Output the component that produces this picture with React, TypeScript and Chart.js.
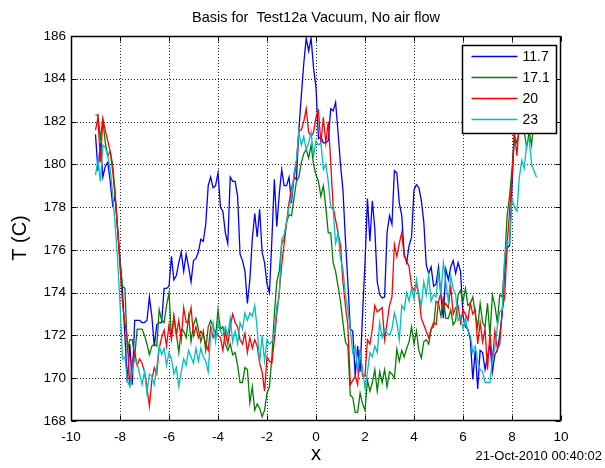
import React, { useEffect, useRef } from 'react';
import { Chart, registerables } from 'chart.js';

Chart.register(...registerables);

const FONT = '"Liberation Sans", Arial, Helvetica, sans-serif';

const TITLE = 'Basis for  Test12a Vacuum, No air flow';
const X_LABEL = 'x';
const Y_LABEL = 'T (C)';
const TIMESTAMP = '21-Oct-2010 00:40:02';

const SERIES_LABELS = ['11.7', '17.1', '20', '23'];
const SERIES_COLORS = ['#0000ff', '#008000', '#ff0000', '#00bfbf'];

// sampling grid of the measurement positions
const X_START = -9;
const X_STEP = 0.1;

const X_TICKS = [-10, -8, -6, -4, -2, 0, 2, 4, 6, 8, 10];
const Y_TICKS = [168, 170, 172, 174, 176, 178, 180, 182, 184, 186];

// one row per unit of x (-9.0 ... 9.0)
const T_11_7 = [
  181.4, 179.7, 181.0, 179.4, 179.9, 180.1, 179.2, 178.1, 178.5, 177.0,
  175.6, 174.1, 172.0, 169.8, 171.6, 169.7, 172.7, 172.7, 172.7, 172.6,
  172.6, 172.7, 173.8, 172.9, 171.5, 172.5, 172.6, 172.6, 174.2, 174.2,
  174.3, 175.7, 174.6, 174.8, 175.4, 175.9, 175.0, 175.8, 175.2, 174.5,
  175.5, 175.6, 175.9, 176.5, 176.4, 177.2, 179.0, 179.4, 178.9, 179.0,
  179.6, 178.0, 177.8, 176.8, 176.3, 179.4, 179.2, 179.2, 178.5, 175.8,
  175.5, 175.0, 173.5, 174.6, 176.5, 177.7, 176.6, 177.9, 175.9, 175.4,
  174.4, 174.0, 176.5, 179.3, 177.1, 178.6, 179.75, 179.0, 179.0, 179.4,
  178.2, 179.4, 179.3, 181.6, 183.2, 184.7, 185.9, 185.3, 185.9, 184.5,
  183.6, 181.2, 181.3, 181.0, 181.0, 181.1, 182.6, 182.5, 182.9, 181.5,
  180.0, 178.8, 176.5, 174.5, 172.3, 172.2, 170.1, 171.5, 170.3, 173.0,
  175.4, 178.4, 176.4, 178.3, 177.0, 174.5, 173.9, 173.75, 173.8, 176.8,
  177.6, 177.2, 179.7, 179.6, 178.2, 177.6, 175.8, 175.4, 176.2, 176.6,
  178.8, 179.05, 178.9, 178.3, 177.3, 175.3, 174.9, 175.2, 174.3, 174.4,
  175.2, 173.8, 172.8, 175.1, 174.6, 175.2, 175.5, 174.9, 175.4, 175.0,
  172.9, 172.4, 172.3, 171.8, 169.95, 171.3, 169.5, 171.3, 171.2, 170.4,
  171.0, 171.6, 170.3, 171.1, 171.3, 172.0, 173.0, 175.0, 176.1, 176.2,
  179.0, 181.5, 182.8, 183.2, 183.8, 184.0, 183.5, 184.2, 184.0, 184.5,
  184.2,
];

const T_17_1 = [
  182.3, 182.3, 181.2, 182.1, 181.0, 180.4, 180.6, 180.0, 178.7, 177.0,
  175.5, 174.3, 174.2, 171.3, 171.8, 171.8, 171.0, 172.3, 172.3, 172.3,
  172.0, 171.6, 171.1, 171.5, 171.6, 171.5, 173.2, 172.7, 172.6, 173.4,
  174.0, 171.9, 172.9, 172.1, 171.2, 172.3, 172.2, 171.9, 172.9, 171.7,
  172.5, 172.8, 172.3, 171.7, 172.2, 171.3, 172.4, 172.7, 172.4, 171.9,
  173.2, 172.3, 172.4, 171.6, 171.3, 171.6, 171.1, 171.2, 170.6, 169.8,
  169.8, 170.5, 170.4, 168.85, 169.6, 168.5, 168.8, 168.6, 168.2, 168.5,
  169.3, 169.6, 171.0, 173.0, 174.5, 175.0, 176.3, 176.5, 177.3, 177.65,
  177.6, 178.4, 179.2, 179.4, 180.07, 180.5, 180.7, 180.3, 180.9, 180.0,
  179.5, 179.2, 178.5, 179.0, 178.0, 176.8, 176.8, 175.4, 175.0, 174.3,
  173.6, 172.6, 171.7, 171.5, 169.2, 169.1, 168.4, 168.4, 169.3, 168.8,
  168.5, 169.9, 169.4, 169.8, 170.4, 169.4, 170.3, 169.8, 170.4, 169.6,
  170.3, 170.2, 170.0, 171.35, 170.8, 171.3, 171.0, 171.4, 171.7, 172.4,
  171.6, 172.2, 171.3, 170.95, 171.7, 171.8, 171.6, 172.3, 172.4, 173.6,
  173.5, 172.9, 173.7, 172.8, 172.8, 173.2, 172.5, 172.7, 173.9, 174.1,
  173.6, 174.2, 173.4, 173.5, 173.8, 173.0, 172.4, 173.5, 172.6, 172.4,
  173.5, 172.0, 173.9, 173.4, 172.6, 173.9, 173.8, 175.4, 177.6, 178.5,
  179.8, 181.3, 181.0, 181.6, 181.8, 181.5, 180.8, 181.5, 180.9, 182.3,
  183.0,
];

const T_20 = [
  181.6, 182.2, 180.1, 182.1, 181.6, 181.1, 180.6, 179.7, 178.5, 177.1,
  175.2, 173.5, 172.6, 171.8, 169.6, 170.8, 171.2, 170.6, 170.9, 170.7,
  170.3, 169.6, 168.7, 169.9, 170.5, 170.2, 171.4, 171.9, 172.25, 171.5,
  172.5, 171.8, 172.9, 172.0, 172.7, 171.8, 173.3, 172.6, 172.7, 173.3,
  172.0, 172.4, 171.9, 172.2, 172.0, 171.6, 171.3, 172.4, 171.9, 172.2,
  172.0, 171.9, 171.3, 172.2, 171.6, 172.4, 173.0, 172.6, 172.4, 171.8,
  171.6, 172.1, 171.2, 171.9, 171.4, 171.8, 171.5, 170.7, 170.3, 169.4,
  171.0, 170.8, 170.7, 171.8, 173.0, 174.0, 175.3, 176.3, 177.3, 178.2,
  178.9, 179.3, 180.07, 181.6, 181.6, 182.0, 182.6, 181.5, 181.3, 181.5,
  182.2, 182.5, 181.0, 182.2, 181.0, 182.0, 180.1, 178.0, 177.4, 176.8,
  176.2, 174.5, 173.4, 172.5, 169.7, 169.9, 170.1, 169.7, 171.35, 170.1,
  170.1, 171.8, 171.6, 172.3, 173.4, 173.1, 173.2, 173.3, 171.8, 172.6,
  173.4, 173.8, 176.25, 175.7, 176.3, 176.8, 175.7, 175.5, 175.2, 174.3,
  174.1, 174.4, 173.8, 172.8, 172.5, 172.2, 171.9, 172.3, 172.6, 172.5,
  173.6, 174.0, 173.3, 173.5, 173.3, 174.3, 173.0, 173.3, 173.4, 172.6,
  173.2, 173.0, 172.7, 173.5, 173.0, 173.2, 171.6, 172.6, 171.7, 172.3,
  170.4, 172.1, 170.8, 172.2, 171.4, 171.6, 173.2, 173.8, 176.2, 177.8,
  179.4, 181.5, 180.4, 182.0, 182.8, 183.0, 183.3, 183.5, 183.8, 183.6,
  184.0,
];

const T_23 = [
  179.5, 180.2, 179.2, 180.9, 180.8, 180.4, 179.8, 178.6, 177.2, 175.6,
  173.5, 170.9, 171.0, 169.9, 169.6, 170.3, 170.9, 170.7, 170.2, 169.7,
  170.3, 169.3, 170.2, 170.1, 169.7, 170.5, 171.5, 171.1, 171.4, 170.6,
  171.2, 170.9, 170.2, 170.5, 169.6, 170.3, 170.9, 170.6, 171.3, 171.0,
  170.7, 171.4, 170.8, 171.4, 171.0, 170.8, 170.3, 172.0, 172.6, 171.7,
  172.6, 172.2, 172.0, 172.4, 172.0, 172.8, 171.7, 172.2, 171.6, 172.6,
  172.3, 173.05, 172.7, 173.05, 172.9, 173.4, 172.3, 170.7, 172.0, 170.8,
  171.8, 171.6, 171.7, 172.2, 173.4, 173.8, 176.5, 176.7, 177.3, 178.0,
  178.4, 179.6, 180.2, 181.5, 180.9, 181.3, 180.7, 181.0, 181.5, 180.4,
  181.1, 180.9, 181.0, 179.75, 180.0, 179.2, 178.0, 177.9, 176.3, 176.8,
  175.6, 175.1, 173.9, 173.2, 172.3, 171.2, 171.5, 170.4, 171.2, 170.4,
  169.55, 170.3, 171.2, 171.0, 171.5, 171.2, 172.6, 171.9, 172.3, 172.1,
  172.0, 172.3, 173.05, 172.6, 171.8, 173.4, 173.2, 174.0, 173.6, 174.2,
  173.7, 174.6, 173.9, 173.4, 174.5, 173.9, 174.8, 173.6, 173.9, 173.8,
  174.9, 174.0, 175.4, 174.5, 173.6, 174.8, 174.2, 173.9, 172.7, 172.9,
  172.3, 172.8, 172.2, 172.0, 171.2, 171.5, 170.8, 170.4, 170.3, 169.8,
  169.8, 169.8, 170.9, 171.4, 172.4, 173.1, 173.2, 175.7, 176.4, 176.3,
  178.4, 178.0, 177.8, 179.4, 180.2, 179.8, 181.0, 181.2, 180.0, 179.7,
  179.4,
];

const SERIES = [T_11_7, T_17_1, T_20, T_23];

const X_MIN = X_TICKS[0];
const X_MAX = X_TICKS[X_TICKS.length - 1];
const Y_MIN = Y_TICKS[0];
const Y_MAX = Y_TICKS[Y_TICKS.length - 1];

const matlabAxes = {
  id: 'matlabAxes',
  beforeDatasetsDraw(chart: any) {
    const { ctx, chartArea: a, scales } = chart;
    const xs = scales.x;
    const ys = scales.y;
    ctx.save();
    ctx.strokeStyle = 'rgba(0,0,0,0.85)';
    ctx.lineWidth = 1;
    ctx.setLineDash([1, 2]);
    X_TICKS.forEach((v) => {
      if (v <= X_MIN || v >= X_MAX) return;
      const px = Math.round(xs.getPixelForValue(v)) + 0.5;
      ctx.beginPath();
      ctx.moveTo(px, a.top);
      ctx.lineTo(px, a.bottom);
      ctx.stroke();
    });
    Y_TICKS.forEach((v) => {
      if (v <= Y_MIN || v >= Y_MAX) return;
      const py = Math.round(ys.getPixelForValue(v)) + 0.5;
      ctx.beginPath();
      ctx.moveTo(a.left, py);
      ctx.lineTo(a.right, py);
      ctx.stroke();
    });
    ctx.restore();
  },
  afterDatasetsDraw(chart: any) {
    const { ctx, chartArea: a, scales } = chart;
    const xs = scales.x;
    const ys = scales.y;
    const L = Math.round(a.left) + 0.5;
    const R = Math.round(a.right) - 0.5;
    const T = Math.round(a.top) + 0.5;
    const B = Math.round(a.bottom) - 0.5;
    ctx.save();
    ctx.setLineDash([]);
    ctx.strokeStyle = '#000';
    ctx.lineWidth = 1;
    // tick marks (inward, all four sides)
    const tl = 5;
    X_TICKS.forEach((v) => {
      const px = Math.round(xs.getPixelForValue(v)) + 0.5;
      ctx.beginPath();
      ctx.moveTo(px, B);
      ctx.lineTo(px, B - tl);
      ctx.moveTo(px, T);
      ctx.lineTo(px, T + tl);
      ctx.stroke();
    });
    Y_TICKS.forEach((v) => {
      const py = Math.round(ys.getPixelForValue(v)) + 0.5;
      ctx.beginPath();
      ctx.moveTo(L, py);
      ctx.lineTo(L + tl, py);
      ctx.moveTo(R, py);
      ctx.lineTo(R - tl, py);
      ctx.stroke();
    });
    // axes box
    ctx.lineWidth = 1.5;
    ctx.strokeRect(L, T, R - L, B - T);

    // legend box (drawn over the data, like MATLAB)
    const lx = 462.5;
    const ly = 45.5;
    const lw = 94;
    const lh = 88;
    ctx.fillStyle = '#fff';
    ctx.fillRect(lx, ly, lw, lh);
    ctx.lineWidth = 1.5;
    ctx.strokeStyle = '#000';
    ctx.strokeRect(lx, ly, lw, lh);
    ctx.font = '14px ' + FONT;
    ctx.textBaseline = 'middle';
    ctx.textAlign = 'left';
    chart.data.datasets.forEach((ds: any, i: number) => {
      const ry = ly + 11 + i * 21;
      ctx.strokeStyle = ds.borderColor;
      ctx.lineWidth = 1.3;
      ctx.beginPath();
      ctx.moveTo(lx + 9, ry);
      ctx.lineTo(lx + 55, ry);
      ctx.stroke();
      ctx.fillStyle = '#000';
      ctx.fillText(ds.label, lx + 60, ry + 0.5);
    });
    ctx.restore();
  },
  afterDraw(chart: any) {
    const { ctx } = chart;
    ctx.save();
    ctx.fillStyle = '#000';
    // y-axis label
    ctx.font = '20px ' + FONT;
    ctx.textAlign = 'center';
    ctx.textBaseline = 'middle';
    ctx.translate(20, 238);
    ctx.rotate(-Math.PI / 2);
    ctx.fillText(Y_LABEL, 0, 0);
    ctx.setTransform(1, 0, 0, 1, 0, 0);
    // time stamp
    ctx.font = '13px ' + FONT;
    ctx.textAlign = 'right';
    ctx.textBaseline = 'middle';
    ctx.fillText(TIMESTAMP, 602, 456);
    ctx.restore();
  },
};

export default function App() {
  const canvasRef = useRef<HTMLCanvasElement | null>(null);

  useEffect(() => {
    const canvas = canvasRef.current;
    if (!canvas) return;
    Chart.defaults.font.family = FONT;
    Chart.defaults.color = '#000';

    const datasets = SERIES.map((vals, i) => ({
      label: SERIES_LABELS[i],
      data: vals.map((v, j) => ({ x: X_START + j * X_STEP, y: v })),
      borderColor: SERIES_COLORS[i],
      backgroundColor: SERIES_COLORS[i],
      borderWidth: 1.3,
      pointRadius: 0,
      tension: 0,
      fill: false,
      order: SERIES.length - i,
    }));

    const chart = new Chart(canvas, {
      type: 'line',
      data: { datasets },
      plugins: [matlabAxes],
      options: {
        animation: false,
        responsive: false,
        devicePixelRatio: 1,
        events: [],
        layout: { padding: { left: 0, right: 44, top: 0, bottom: 0 } },
        plugins: {
          legend: { display: false },
          tooltip: { enabled: false },
          title: {
            display: true,
            text: TITLE,
            fullSize: false,
            color: '#000',
            font: { size: 14.5, weight: 'normal', family: FONT },
            padding: { top: 9, bottom: 9.6 },
          },
        },
        scales: {
          x: {
            type: 'linear',
            min: X_MIN,
            max: X_MAX,
            afterBuildTicks: (s: any) => {
              s.ticks = X_TICKS.map((v) => ({ value: v }));
            },
            afterFit: (s: any) => {
              s.height = 47;
            },
            grid: { display: false, drawTicks: false },
            border: { display: false },
            ticks: {
              padding: 8,
              color: '#000',
              font: { size: 13.5, family: FONT },
              maxRotation: 0,
              autoSkip: false,
            },
            title: {
              display: true,
              text: X_LABEL,
              color: '#000',
              font: { size: 20, family: FONT },
              padding: { top: 0, bottom: 1.5 },
            },
          },
          y: {
            type: 'linear',
            min: Y_MIN,
            max: Y_MAX,
            afterBuildTicks: (s: any) => {
              s.ticks = Y_TICKS.map((v) => ({ value: v }));
            },
            afterFit: (s: any) => {
              s.width = 71;
            },
            grid: { display: false, drawTicks: false },
            border: { display: false },
            ticks: {
              padding: 5,
              color: '#000',
              font: { size: 13.5, family: FONT },
              autoSkip: false,
            },
            title: { display: false },
          },
        },
      },
    });
    return () => chart.destroy();
  }, []);

  return (
    <div style={{ position: 'absolute', left: 0, top: 0, width: 605, height: 468, background: '#fff' }}>
      <canvas ref={canvasRef} width={605} height={468} style={{ display: 'block', width: 605, height: 468 }} />
    </div>
  );
}
